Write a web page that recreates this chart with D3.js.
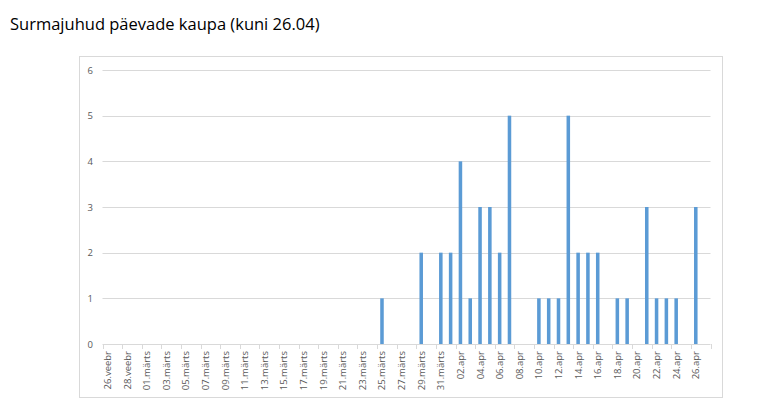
<!DOCTYPE html>
<html><head><meta charset="utf-8">
<script src="https://cdn.jsdelivr.net/npm/d3@7"></script>
<style>
html,body{margin:0;padding:0;background:#fff;}
svg{display:block;}
</style></head>
<body><svg id="c" width="768" height="402"></svg>
<script>
const title = "Surmajuhud päevade kaupa (kuni 26.04)";
const dates = [
 "26.veebr","27.veebr","28.veebr","29.veebr",
 "01.märts","02.märts","03.märts","04.märts","05.märts","06.märts","07.märts","08.märts","09.märts","10.märts",
 "11.märts","12.märts","13.märts","14.märts","15.märts","16.märts","17.märts","18.märts","19.märts","20.märts",
 "21.märts","22.märts","23.märts","24.märts","25.märts","26.märts","27.märts","28.märts","29.märts","30.märts","31.märts",
 "01.apr","02.apr","03.apr","04.apr","05.apr","06.apr","07.apr","08.apr","09.apr","10.apr",
 "11.apr","12.apr","13.apr","14.apr","15.apr","16.apr","17.apr","18.apr","19.apr","20.apr",
 "21.apr","22.apr","23.apr","24.apr","25.apr","26.apr","27.apr"
];
const deaths = [
 0,0,0,0,
 0,0,0,0,0,0,0,0,0,0,
 0,0,0,0,0,0,0,0,0,0,
 0,0,0,0,1,0,0,0,2,0,2,
 2,4,1,3,3,2,5,0,0,1,
 1,1,5,2,2,2,0,1,1,0,
 3,1,1,1,0,3,null
];
const yTicks = [0,1,2,3,4,5,6];

(function(){
const svg = d3.select("#c");
const font = "'Open Sans', 'Noto Sans', sans-serif";

svg.append("text").attr("x",10).attr("y",30)
  .attr("font-family",font).attr("font-size",16.5).attr("fill","#000")
  .text(title);

svg.append("rect").attr("x",79.5).attr("y",56.5).attr("width",643).attr("height",341)
  .attr("fill","#fff").attr("stroke","#d9d9d9").attr("stroke-width",1);

const pl = 102.5, pr = 710.5, pt = 70, pb = 344;
const x = d3.scaleBand().domain(dates).range([pl,pr]).paddingInner(0.64).paddingOuter(0.32);
const y = d3.scaleLinear().domain([0,6]).range([pb,pt]);

svg.append("g").selectAll("line").data(yTicks.filter(d=>d>0)).join("line")
  .attr("x1",pl).attr("x2",pr)
  .attr("y1",d=>Math.round(y(d))+0.5).attr("y2",d=>Math.round(y(d))+0.5)
  .attr("stroke","#d9d9d9").attr("stroke-width",1);

svg.append("g").selectAll("text").data(yTicks).join("text")
  .attr("x",93).attr("y",d=>y(d)+3.5).attr("text-anchor","end")
  .attr("font-family",font).attr("font-size",9.5).attr("fill","#595959")
  .text(d=>d);

svg.append("g").selectAll("rect").data(dates.map((d,i)=>({d,v:deaths[i]})).filter(o=>o.v>0)).join("rect")
  .attr("x",o=>x(o.d)).attr("width",x.bandwidth())
  .attr("y",o=>y(o.v)).attr("height",o=>y(0)-y(o.v))
  .attr("fill","#5b9bd5");

svg.append("line").attr("x1",pl).attr("x2",pr).attr("y1",pb+0.5).attr("y2",pb+0.5)
  .attr("stroke","#d9d9d9");

const step = x.step();
const bounds = d3.range(0, dates.length+1, 2).map(i => pl + i*step);
svg.append("g").selectAll("line").data(bounds).join("line")
  .attr("x1",d=>Math.round(d)+0.5).attr("x2",d=>Math.round(d)+0.5)
  .attr("y1",pb).attr("y2",pb+5)
  .attr("stroke","#d9d9d9");

svg.append("g").selectAll("text").data(dates.filter((d,i)=>i%2===0)).join("text")
  .attr("transform",d=>`translate(${x(d)+x.bandwidth()/2+3.5},${pb+7}) rotate(-90)`)
  .attr("text-anchor","end")
  .attr("font-family",font).attr("font-size",9.5).attr("fill","#595959")
  .text(d=>d);
})();
</script></body></html>
